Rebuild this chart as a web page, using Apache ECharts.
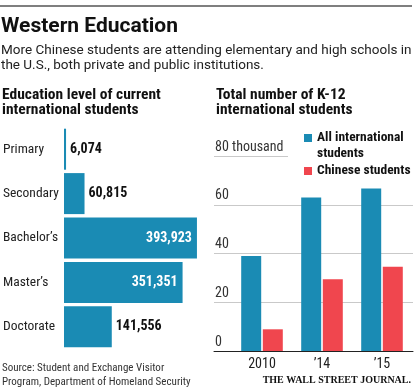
<!DOCTYPE html>
<html>
<head>
<meta charset="utf-8">
<script src="https://cdn.jsdelivr.net/npm/echarts@6/dist/echarts.min.js"></script>
<style>html,body{margin:0;padding:0;background:#fff}#c{width:414px;height:390px}</style>
</head>
<body>
<div id="c"></div>
<script>
// ---- data ----
var levels = ['Primary', 'Secondary', 'Bachelor\u2019s', 'Master\u2019s', 'Doctorate'];
var levelCounts = [6074, 60815, 393923, 351351, 141556];
var insideLabelLevels = ['Bachelor\u2019s', 'Master\u2019s'];

var years = ['2010', '\u201914', '\u201915'];
var allIntl = [39.0, 63.0, 66.7];
var chinese = [8.9, 29.4, 34.6];
var yTicks = [0, 20, 40, 60, 80];
var seriesNames = ['All international students', 'Chinese students'];

// ---- styles ----
var BLUE = '#1a8bb4';
var RED = '#f0464e';
var COND = "'Roboto Condensed', 'Open Sans Condensed', Roboto, sans-serif";
var SANS = "Roboto, 'Noto Sans', sans-serif";

var chart = echarts.init(document.getElementById('c'), null, {renderer: 'canvas'});

var levelData = levelCounts.map(function (v, i) {
  var inside = insideLabelLevels.indexOf(levels[i]) >= 0;
  return {
    value: v,
    label: {
      position: inside ? 'insideRight' : 'right',
      color: inside ? '#ffffff' : '#111111',
      distance: inside ? 5 : 4
    }
  };
});

var option = {
  animation: false,
  title: [
    {text: 'Western Education', left: 1, top: 14.5, padding: 0,
     textStyle: {fontFamily: SANS, fontWeight: 'bold', fontSize: 21, lineHeight: 24, color: '#111'}},
    {text: 'More Chinese students are attending elementary and high schools in\nthe U.S., both private and public institutions.',
     left: 1, top: 43, padding: 0,
     textStyle: {fontFamily: SANS, fontWeight: 'normal', fontSize: 13.5, lineHeight: 15, color: '#222'}},
    {text: 'Education level of current\ninternational students', left: 2, top: 87, padding: 0,
     textStyle: {fontFamily: COND, fontWeight: 'bold', fontSize: 15.5, lineHeight: 15.5, color: '#111'}},
    {text: 'Total number of K-12\ninternational students', left: 216, top: 87, padding: 0,
     textStyle: {fontFamily: COND, fontWeight: 'bold', fontSize: 15.5, lineHeight: 15.5, color: '#111'}},
    {text: 'Source: Student and Exchange Visitor\nProgram, Department of Homeland Security', left: 2, top: 361, padding: 0,
     textStyle: {fontFamily: COND, fontWeight: 'normal', fontSize: 11, lineHeight: 14, color: '#333'}},
    {text: 'THE WALL STREET JOURNAL.', right: 3, top: 374, padding: 0,
     textStyle: {fontFamily: "'Liberation Serif', 'DejaVu Serif', serif", fontWeight: 'bold', fontSize: 10, lineHeight: 12, color: '#111'}}
  ],
  graphic: [
    {type: 'line', shape: {x1: 0, y1: 6, x2: 412, y2: 6}, style: {stroke: '#555', lineWidth: 1.5}}
  ],
  legend: [
    {data: [seriesNames[0]], orient: 'vertical', left: 304, top: 114, padding: 0,
     itemWidth: 8, itemHeight: 8, icon: 'rect',
     formatter: function () { return ' \nAll international\nstudents'; },
     textStyle: {fontFamily: COND, fontWeight: 'bold', fontSize: 13.5, lineHeight: 16, color: '#111'}},
    {data: [seriesNames[1]], orient: 'vertical', left: 304, top: 163, padding: 0,
     itemWidth: 8, itemHeight: 8, icon: 'rect',
     textStyle: {fontFamily: COND, fontWeight: 'bold', fontSize: 13.5, lineHeight: 16, color: '#111'}}
  ],
  grid: [
    {left: 63, top: 127, width: 136, height: 222, containLabel: false},
    {left: 232, top: 156, width: 180, height: 195, containLabel: false},
    {left: 214, top: 156, width: 199, height: 195, containLabel: false},
    {left: 214, top: 156, width: 74, height: 195, containLabel: false}
  ],
  xAxis: [
    {gridIndex: 0, type: 'value', min: 0, max: 400000, show: false},
    {gridIndex: 1, type: 'category', data: years,
     axisLine: {show: false}, axisTick: {show: false},
     axisLabel: {margin: 6, fontFamily: COND, fontSize: 14, color: '#222'}},
    {gridIndex: 2, type: 'value', min: 0, max: 1,
     axisLine: {show: true, lineStyle: {color: '#222', width: 1}},
     axisTick: {show: false}, axisLabel: {show: false}, splitLine: {show: false}},
    {gridIndex: 3, type: 'value', min: 0, max: 1, show: false}
  ],
  yAxis: [
    {gridIndex: 0, type: 'category', data: levels, inverse: true,
     axisLine: {show: false}, axisTick: {show: false},
     axisLabel: {margin: 61, align: 'left', fontFamily: COND, fontSize: 13.5, color: '#222'}},
    {gridIndex: 1, type: 'value', min: 0, max: 80, interval: 20, show: false},
    {gridIndex: 2, type: 'value', min: 0, max: 80, interval: 20,
     axisLine: {show: false}, axisTick: {show: false},
     splitLine: {show: true, showMinLine: false, showMaxLine: false, lineStyle: {color: '#c9c9c9', width: 1}},
     axisLabel: {inside: true, margin: 1, align: 'left', verticalAlign: 'bottom', padding: [0, 0, 2, 0],
                 fontFamily: COND, fontSize: 14, color: '#333',
                 formatter: function (v) { return v === 80 ? '80 thousand' : String(v); }}},
    {gridIndex: 3, type: 'value', min: 0, max: 80, interval: 20,
     axisLine: {show: false}, axisTick: {show: false}, axisLabel: {show: false},
     splitLine: {show: true, showMinLine: false, showMaxLine: true, lineStyle: {color: '#c9c9c9', width: 1}}}
  ],
  series: [
    {type: 'bar', xAxisIndex: 0, yAxisIndex: 0, data: levelData, barWidth: 41,
     itemStyle: {color: BLUE},
     label: {show: true, fontFamily: COND, fontWeight: 'bold', fontSize: 14,
             formatter: function (p) { return p.value.toLocaleString('en-US'); }}},
    {name: seriesNames[0], type: 'bar', xAxisIndex: 1, yAxisIndex: 1, data: allIntl,
     barWidth: 20, barGap: '8%', itemStyle: {color: BLUE}},
    {name: seriesNames[1], type: 'bar', xAxisIndex: 1, yAxisIndex: 1, data: chinese,
     barWidth: 20, barGap: '8%', itemStyle: {color: RED}}
  ]
};
chart.setOption(option);
</script>
</body>
</html>
